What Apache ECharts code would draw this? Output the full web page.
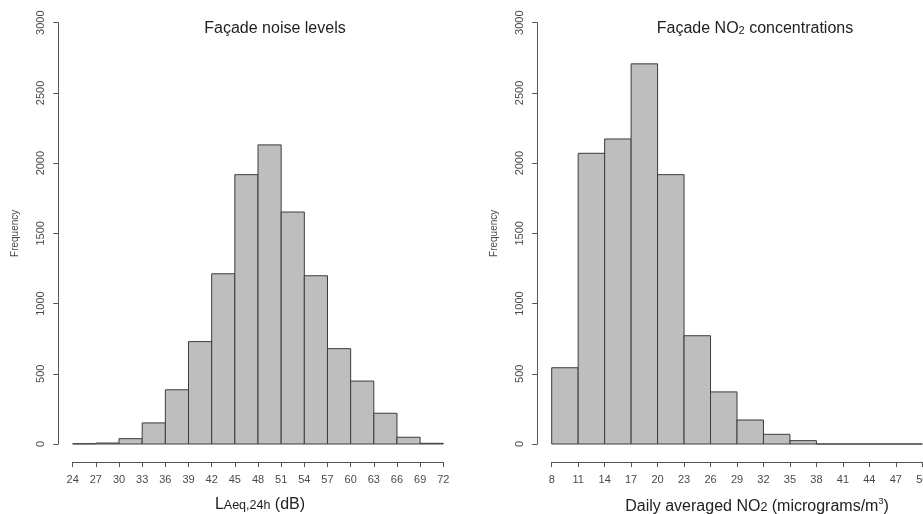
<!DOCTYPE html>
<html>
<head>
<meta charset="utf-8">
<title>Façade noise and NO2 histograms</title>
<script src="https://cdn.jsdelivr.net/npm/echarts@6/dist/echarts.min.js"></script>
<style>
  html, body { margin: 0; padding: 0; background: #fff; }
  #chart { width: 923px; height: 514px; }
</style>
</head>
<body>
<div id="chart"></div>
<script>
// noise histogram (bin width 3 dB)
var noiseBinStarts = [24, 27, 30, 33, 36, 39, 42, 45, 48, 51, 54, 57, 60, 63, 66, 69];
var noiseCounts = [2, 7, 38, 150, 386, 729, 1212, 1918, 2130, 1652, 1198, 679, 448, 219, 48, 5];
var noiseTicks = [24, 27, 30, 33, 36, 39, 42, 45, 48, 51, 54, 57, 60, 63, 66, 69, 72];

// NO2 histogram (bin width 3 ug/m3)
var no2BinStarts = [8, 11, 14, 17, 20, 23, 26, 29, 32, 35, 38, 41, 44, 47];
var no2Counts = [543, 2070, 2172, 2707, 1918, 771, 371, 171, 69, 24, 0, 0, 0, 0];
var no2Ticks = [8, 11, 14, 17, 20, 23, 26, 29, 32, 35, 38, 41, 44, 47, 50];

var freqTicks = [0, 500, 1000, 1500, 2000, 2500, 3000];
var binWidth = 3;

function toBins(starts, counts) {
  return starts.map(function (s, i) {
    return [s, s + binWidth, counts[i]];
  });
}

function renderBar(params, api) {
  var p0 = api.coord([api.value(0), api.value(2)]);
  var p1 = api.coord([api.value(1), 0]);
  return {
    type: "rect",
    shape: { x: p0[0], y: p0[1], width: p1[0] - p0[0], height: p1[1] - p0[1] },
    style: { fill: "#bebebe", stroke: "#3c3c3c", lineWidth: 1 },
  };
}

var font = "Liberation Sans, Arial, sans-serif";
var axisColor = "#555";
var labelColor = "#4a4a4a";

function makeYAxis(gridIndex) {
  return {
    type: "value",
    gridIndex: gridIndex,
    min: 0,
    max: 3000,
    interval: 500,
    offset: 14.5,
    name: "Frequency",
    nameLocation: "middle",
    nameGap: 38,
    nameTextStyle: { fontFamily: font, fontSize: 10, color: labelColor },
    axisLine: { show: true, lineStyle: { color: axisColor, width: 1 } },
    axisTick: { show: true, length: 5, lineStyle: { color: axisColor } },
    axisLabel: {
      rotate: 90,
      margin: 12,
      fontFamily: font,
      fontSize: 11,
      color: labelColor,
      customValues: freqTicks,
      formatter: function (v) { return String(v); },
    },
    splitLine: { show: false },
  };
}

function makeXAxis(gridIndex, min, max, ticks) {
  return {
    type: "value",
    gridIndex: gridIndex,
    min: min,
    max: max,
    offset: 18,
    axisLine: { show: true, onZero: false, lineStyle: { color: axisColor, width: 1 } },
    axisTick: { show: true, length: 5, customValues: ticks, lineStyle: { color: axisColor } },
    axisLabel: {
      margin: 12,
      fontFamily: font,
      fontSize: 11,
      color: labelColor,
      customValues: ticks,
      hideOverlap: false,
    },
    splitLine: { show: false },
  };
}

var myChart = echarts.init(document.getElementById("chart"));

var option = {
  animation: false,
  backgroundColor: "#fff",
  title: [
    {
      text: "Façade noise levels",
      left: 270,
      top: 16,
      textAlign: "center",
      textStyle: { fontFamily: font, fontSize: 16, fontWeight: "normal", color: "#222" },
    },
    {
      text: "Façade NO{sub|2} concentrations",
      left: 750,
      top: 16,
      textAlign: "center",
      textStyle: {
        fontFamily: font,
        fontSize: 16,
        fontWeight: "normal",
        color: "#222",
        rich: { sub: { fontFamily: font, fontSize: 11, color: "#222", padding: [4, 0, 0, 0] } },
      },
    },
    {
      text: "L{s|Aeq,24h} (dB)",
      left: 255,
      top: 492,
      textAlign: "center",
      textStyle: {
        fontFamily: font,
        fontSize: 16,
        fontWeight: "normal",
        color: "#222",
        rich: { s: { fontFamily: font, fontSize: 12.5, color: "#222", padding: [2, 0, 0, 0] } },
      },
    },
    {
      text: "Daily averaged NO{s|2} (micrograms/m{sup|3})",
      left: 752,
      top: 492,
      textAlign: "center",
      textStyle: {
        fontFamily: font,
        fontSize: 16,
        fontWeight: "normal",
        color: "#222",
        rich: {
          s: { fontFamily: font, fontSize: 12.5, color: "#222", padding: [2, 0, 0, 0] },
          sup: { fontFamily: font, fontSize: 9, color: "#222", padding: [0, 0, 11, 0] },
        },
      },
    },
  ],
  grid: [
    { left: 72.7, top: 22.7, width: 370.6, height: 421.3, outerBoundsMode: "none", containLabel: false },
    { left: 551.7, top: 22.7, width: 370.6, height: 421.3, outerBoundsMode: "none", containLabel: false },
  ],
  xAxis: [
    makeXAxis(0, 24, 72, noiseTicks),
    makeXAxis(1, 8, 50, no2Ticks),
  ],
  yAxis: [makeYAxis(0), makeYAxis(1)],
  series: [
    {
      type: "custom",
      xAxisIndex: 0,
      yAxisIndex: 0,
      renderItem: renderBar,
      encode: { x: [0, 1], y: 2 },
      data: toBins(noiseBinStarts, noiseCounts),
    },
    {
      type: "custom",
      xAxisIndex: 1,
      yAxisIndex: 1,
      renderItem: renderBar,
      encode: { x: [0, 1], y: 2 },
      data: toBins(no2BinStarts, no2Counts),
    },
  ],
};

myChart.setOption(option, true);
</script>
</body>
</html>
